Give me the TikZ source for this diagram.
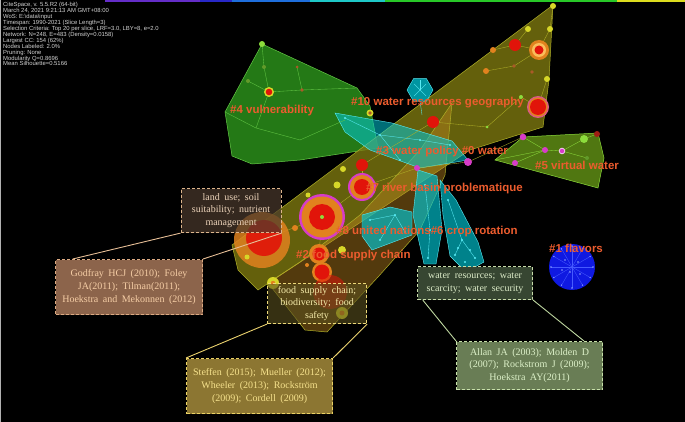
\documentclass[tikz,border=0pt]{standalone}
\usepackage{fontspec}
\setmainfont{Liberation Sans}
\newfontfamily\boxfont[WordSpace=1.8]{Liberation Serif}
\usetikzlibrary{calc}
\definecolor{labc}{RGB}{236,92,46}
\definecolor{hdr}{RGB}{210,210,210}
\definecolor{grn}{RGB}{40,135,25}
\definecolor{grnE}{RGB}{100,200,70}
\definecolor{oliv}{RGB}{125,120,15}
\definecolor{olivE}{RGB}{175,175,40}
\definecolor{olivB}{RGB}{185,130,30}
\definecolor{cya}{RGB}{0,200,215}
\definecolor{cyaE}{RGB}{90,235,245}
\definecolor{grn5}{RGB}{95,140,20}
\definecolor{blu}{RGB}{15,25,225}
\definecolor{yel}{RGB}{215,215,40}
\definecolor{org}{RGB}{225,130,30}
\definecolor{brn}{RGB}{170,90,40}
\definecolor{rd}{RGB}{225,20,10}
\definecolor{mag}{RGB}{215,60,200}
\definecolor{lgr}{RGB}{140,220,60}
\definecolor{bAf}{RGB}{75,58,45}\definecolor{bAd}{RGB}{220,180,140}\definecolor{bAt}{RGB}{235,210,185}
\definecolor{bBf}{RGB}{140,100,75}\definecolor{bBd}{RGB}{220,170,130}\definecolor{bBt}{RGB}{245,205,165}
\definecolor{bCf}{RGB}{90,80,30}\definecolor{bCd}{RGB}{235,215,120}\definecolor{bCt}{RGB}{245,235,170}
\definecolor{bDf}{RGB}{140,118,50}\definecolor{bDd}{RGB}{235,210,100}\definecolor{bDt}{RGB}{245,225,140}
\definecolor{bEf}{RGB}{55,70,50}\definecolor{bEd}{RGB}{200,220,170}\definecolor{bEt}{RGB}{220,235,200}
\definecolor{bFf}{RGB}{105,125,85}\definecolor{bFd}{RGB}{200,225,170}\definecolor{bFt}{RGB}{220,240,200}
\definecolor{tb1}{RGB}{100,45,200}
\definecolor{tb2}{RGB}{40,40,200}
\definecolor{tb3}{RGB}{30,110,220}
\definecolor{tb4}{RGB}{30,200,200}
\definecolor{tb5}{RGB}{40,200,40}
\definecolor{tb6}{RGB}{220,220,30}
\definecolor{cnA}{RGB}{230,190,150}
\definecolor{cnC}{RGB}{235,210,110}
\definecolor{cnE}{RGB}{190,215,160}
\definecolor{bludot}{RGB}{140,160,255}
\definecolor{bluln}{RGB}{70,90,255}
\definecolor{ltorg}{RGB}{250,190,90}
\definecolor{dkred}{RGB}{160,30,20}
\tikzset{
  lab/.style={text=labc, font=\bfseries\fontsize{11.5}{11.5}\selectfont, inner sep=0pt, anchor=west},
  cbox/.style={dashed, dash pattern=on 3pt off 2pt, line width=1.1pt, align=center,
     font=\boxfont\fontsize{10}{12.6}\selectfont, inner sep=0pt, anchor=north west},
  edg/.style={line width=0.35pt},
  conn/.style={line width=0.9pt},
}
\begin{document}
\begin{tikzpicture}[x=1pt,y=-1pt]
\useasboundingbox (0,0) rectangle (685,422);
\fill[black] (0,0) rectangle (685,422);
\draw[gray!60, line width=0.6pt] (0.3,0) -- (0.3,422);
% top timeline bar
\fill[tb1] (105,0) rectangle (200,2);
\fill[tb2] (200,0) rectangle (232,2);
\fill[tb3] (232,0) rectangle (310,2);
\fill[tb4] (310,0) rectangle (385,2);
\fill[tb5] (385,0) rectangle (617,2);
\fill[tb6] (617,0) rectangle (685,2);

% header text
\node[anchor=north west, inner sep=0pt, align=left, text=hdr,
      font=\fontsize{5.9}{5.95}\selectfont] (hdr) at (3,2) {%
CiteSpace, v. 5.5.R2 (64-bit)\\
March 24, 2021 9:21:13 AM GMT+08:00\\
WoS: E:\textbackslash data\textbackslash input\\
Timespan: 1990-2021 (Slice Length=3)\\
Selection Criteria: Top 20 per slice, LRF=3.0, LBY=8, e=2.0\\
Network: N=248, E=483 (Density=0.0158)\\
Largest CC: 154 (62\%)\\
Nodes Labeled: 2.0\%\\
Pruning: None\\
Modularity Q=0.8696\\
Mean Silhouette=0.5166};

% ---- cluster hulls ----
\filldraw[fill=grn, fill opacity=0.9, draw=grnE, line width=0.5pt]
  (262,44) -- (357,88) -- (370,106) -- (378,148) -- (300,160) -- (252,164) -- (232,156) -- (225,112) -- cycle;
\filldraw[fill=oliv, fill opacity=0.8, draw=olivE, line width=0.5pt]
  (553,5) -- (549,80) -- (543,127) -- (470,150) -- (258,290) -- (238,270) -- (232,245) -- cycle;
\filldraw[fill=grn5, fill opacity=0.85, draw=lgr, line width=0.5pt]
  (495,160) -- (523,137) -- (598,133) -- (604,158) -- (598,188) -- cycle;
\filldraw[fill=olivB, fill opacity=0.45, draw=olivE, line width=0.5pt]
  (268,283) -- (300,262) -- (360,215) -- (420,150) -- (452,103) -- (445,175) -- (420,230) -- (378,277) -- (327,332) -- (305,330) -- cycle;
\filldraw[fill=cya, fill opacity=0.55, draw=cyaE, line width=0.4pt]
  (335,113) -- (392,123) -- (452,141) -- (468,160) -- (420,168) -- (370,150) -- (345,132) -- cycle;
\filldraw[fill=cya, fill opacity=0.65, draw=cyaE, line width=0.4pt]
  (362,215) -- (390,207) -- (412,212) -- (412,235) -- (372,250) -- (362,236) -- cycle;
\filldraw[fill=cya, fill opacity=0.65, draw=cyaE, line width=0.4pt]
  (418,170) -- (437,176) -- (442,230) -- (436,264) -- (424,264) -- (413,215) -- cycle;
\filldraw[fill=cya, fill opacity=0.65, draw=cyaE, line width=0.4pt]
  (440,180) -- (456,200) -- (478,242) -- (484,262) -- (466,272) -- (450,256) -- (443,215) -- cycle;
\filldraw[fill=cya, fill opacity=0.75, draw=cyaE, line width=0.4pt]
  (433,90) -- (426.5,101.3) -- (413.5,101.3) -- (407,90) -- (413.5,78.7) -- (426.5,78.7) -- cycle;
\draw[cyaE, edg] (420,101) -- (422,115);
\foreach \x/\y in {414/84,426/84,414/96,426/96,420/80} \draw[cyaE, edg] (420,90) -- (\x,\y);
% #1 flavors
\fill[blu] (572,267) circle (23pt);
\foreach \a in {0,30,...,330} {\draw[bluln, edg] (572,267) -- ++(\a:21pt);
  \fill[bludot] (572,267) ++(\a:21pt) circle (0.8pt);}
\foreach \x/\y in {565/260,578/262,570/272,580/274,562/270} \fill[bludot] (\x,\y) circle (0.8pt);

% ---- edges ----
\foreach \x/\y/\u/\v in {262/44/264/67, 264/67/269/92, 248/81/269/92, 269/92/302/90, 302/90/357/88, 297/67/302/90, 269/92/256/128, 256/128/300/140, 300/140/345/120, 225/112/256/128}
  \draw[grnE, edg] (\x,\y) -- (\u,\v);
\foreach \x/\y/\u/\v in {553/6/550/29, 528/29/515/45, 515/45/539/50, 550/29/539/50, 547/79/538/107, 493/50/515/45, 486/71/514/66, 514/66/539/50, 538/107/521/97, 521/97/487/127, 487/127/433/122, 433/122/362/165, 362/165/362/187, 362/187/322/217, 322/217/262/240, 362/187/417/168, 417/168/468/162, 468/162/523/137, 322/217/319/254}
  \draw[olivE, edg] (\x,\y) -- (\u,\v);
\foreach \x/\y/\u/\v in {523/137/545/150, 545/150/562/151, 562/151/584/139, 584/139/597/134, 515/163/545/150, 562/151/587/158, 495/160/545/150}
  \draw[lgr, edg] (\x,\y) -- (\u,\v);
\foreach \x/\y/\u/\v in {345/118/380/135, 380/135/420/140, 420/140/450/145, 380/135/400/160, 370/220/395/215, 395/215/405/232, 380/240/395/215, 425/185/430/230, 430/230/428/258, 448/200/462/240, 462/240/475/258, 455/255/462/240}
  \draw[cyaE, edg] (\x,\y) -- (\u,\v);
\foreach \x/\y in {345/118,380/135,420/140,450/145,400/160,370/220,395/215,405/232,380/240,425/185,430/230,428/258,448/200,462/240,475/258,455/255,465/262,470/250,458/248}
  \fill[cyaE] (\x,\y) circle (1.1pt);

% ---- nodes ----
\fill[lgr] (262,44) circle (3pt);
\fill[lgr!70!black] (264,67) circle (2pt);
\fill[lgr!70!black] (248,81) circle (2pt);
\fill[brn] (297,67) circle (1.5pt);
\fill[brn] (302,90) circle (1.8pt);
\fill[yel] (269,92) circle (5pt); \fill[rd] (269,92) circle (3.3pt);
\fill[yel] (553,6) circle (3pt);
\fill[yel] (528,29) circle (3pt);
\fill[yel] (550,29) circle (3pt);
\fill[org] (493,50) circle (3pt);
\fill[org] (486,71) circle (3pt);
\fill[brn] (514,66) circle (1.8pt);
\fill[brn] (532,72) circle (1.8pt);
\fill[yel] (547,79) circle (3pt);
\fill[lgr] (521,97) circle (2pt);
\fill[lgr] (487,127) circle (1.5pt);
\fill[rd] (515,45) circle (6pt);
\fill[org] (539,50) circle (10pt); \fill[ltorg] (539,50) circle (7pt); \fill[rd] (539,50) circle (4.5pt);
\fill[mag!60!org] (538,107) circle (11pt); \fill[org] (538,107) circle (9.5pt); \fill[rd] (538,107) circle (8pt);
\fill[yel] (370,113) circle (3.5pt); \fill[brn] (370,113) circle (1.8pt);
\fill[rd] (433,122) circle (6pt);
\fill[rd] (362,165) circle (6pt);
\fill[yel] (343,169) circle (3pt);
\fill[yel] (337,185) circle (3.5pt);
\fill[yel] (308,195) circle (2.5pt);
\fill[org] (295,228) circle (3pt);
\fill[mag] (362,187) circle (14pt); \fill[org] (362,187) circle (12pt); \fill[rd] (362,187) circle (8pt);
\fill[mag] (322,217) circle (23pt); \fill[org] (322,217) circle (20.5pt); \fill[rd] (322,217) circle (13pt); \fill[lgr] (322,217) circle (2pt);
\fill[org, opacity=0.85] (262,240) circle (28pt); \fill[rd, opacity=0.9] (264,238) circle (18pt);
\fill[yel] (247,257) circle (2.5pt);
\fill[org] (319,254) circle (10pt); \fill[rd] (319,254) circle (6.5pt);
\fill[yel] (342,250) circle (4pt);
\fill[org] (322,272) circle (10pt); \fill[rd] (322,272) circle (7.5pt);
\fill[rd, opacity=0.55] (330,292) circle (17pt);
\fill[yel] (273,283) circle (6pt); \fill[org] (273,283) circle (2.2pt);
\fill[yel] (342,313) circle (6pt); \fill[org] (342,313) circle (2.5pt);
\fill[org] (307,265) circle (2pt);
\fill[mag] (468,162) circle (4pt);
\fill[mag] (417,168) circle (3pt);
\fill[mag] (523,137) circle (3.3pt);
\fill[mag] (545,150) circle (3pt);
\fill[white!70!mag] (562,151) circle (3.3pt); \fill[mag] (562,151) circle (2.2pt);
\fill[mag] (515,163) circle (3pt);
\fill[dkred] (597,134) circle (3pt);
\fill[lgr] (584,139) circle (4pt);
\fill[lgr!70!black] (587,158) circle (2pt);

% ---- cluster labels ----
\node[lab] (l4) at (230,111) {\#4 vulnerability};
\node[lab] (l10) at (351,103) {\#10 water resources geography};
\node[lab] (l3) at (376,152) {\#3 water policy \#0 water};
\node[lab] (l5) at (535,165) {\#5 virtual water};
\node[lab] (l7) at (366,189) {\#7 river basin problematique};
\node[lab] (l8) at (336,232) {\#8 united nations\#6 crop rotation};
\node[lab] (l2) at (296,256) {\#2 food supply chain};
\node[lab] (l1) at (549,248) {\#1 flavors};

% ---- annotation boxes ----
\node[cbox, draw=bAd, fill=bAf, fill opacity=0.7, text opacity=1, draw opacity=1, text=bAt, minimum width=100pt, minimum height=44pt] (b1) at (180.5,188) {land use; soil\\suitability; nutrient\\management};
\node[cbox, draw=bBd, fill=bBf, text=bBt, minimum width=147pt, minimum height=55pt] (b2) at (55,259) {Godfray HCJ (2010); Foley\\JA(2011); Tilman(2011);\\Hoekstra and Mekonnen (2012)};
\node[cbox, draw=bCd, fill=bCf, fill opacity=0.6, text opacity=1, draw opacity=1, text=bCt, minimum width=99pt, minimum height=40pt] (b3) at (267,283) {food supply chain;\\biodiversity; food\\safety};
\node[cbox, draw=bDd, fill=bDf, text=bDt, minimum width=146pt, minimum height=55pt] (b4) at (186,358) {Steffen (2015); Mueller (2012);\\Wheeler (2013); Rockstr\"om\\(2009); Cordell (2009)};
\node[cbox, draw=bEd, fill=bEf, text=bEt, minimum width=115pt, minimum height=33pt] (b5) at (417,266) {water resources; water\\scarcity; water security};
\node[cbox, draw=bFd, fill=bFf, text=bFt, minimum width=146pt, minimum height=48pt] (b6) at (456,341) {Allan JA (2003); Molden D\\(2007); Rockstrom J (2009);\\Hoekstra AY(2011)};

% ---- connectors ----
\coordinate (b2a) at ($(b2.north west)!0.12!(b2.north east)$);
\coordinate (b6a) at ($(b6.north west)!0.87!(b6.north east)$);
\coordinate (b5a) at ($(b5.south west)!0.05!(b5.south east)$);
\draw[conn, cnA] (b1.south west) -- (b2a);
\draw[conn, cnA] (b2.north east) -- (b1.south east);
\draw[conn, cnC] (b3.south west) -- (b4.north west);
\draw[conn, cnC] (b3.south east) -- (b4.north east);
\draw[conn, cnE] (b5a) -- (b6.north west);
\draw[conn, cnE] (b5.south east) -- (b6a);
\end{tikzpicture}
\end{document}
